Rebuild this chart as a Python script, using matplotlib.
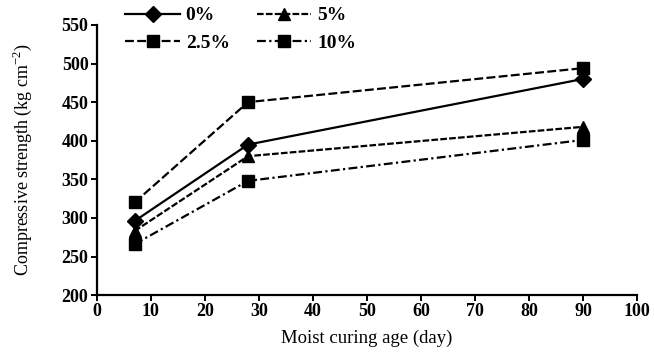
import matplotlib
matplotlib.use("Agg")
import matplotlib.pyplot as plt

days = [7, 28, 90]
s0 = [296, 395, 480]
s25 = [320, 450, 494]
s5 = [283, 380, 418]
s10 = [266, 348, 401]
labels = ["0%", "2.5%", "5%", "10%"]
xticks = list(range(0, 101, 10))
yticks = list(range(200, 551, 50))

plt.rcParams['font.family'] = ['Liberation Serif', 'DejaVu Serif']
plt.rcParams['mathtext.fontset'] = 'custom'
plt.rcParams['mathtext.rm'] = 'Liberation Serif'

fig = plt.figure(figsize=(6.54, 3.56), dpi=100)
ax = fig.add_axes([0.148, 0.171, 0.826, 0.759])

ax.plot(days, s0, color='black', lw=1.6, ls='-', marker='D', ms=8, label=labels[0])
ax.plot(days, s25, color='black', lw=1.6, ls=(0, (4, 1.5)), marker='s', ms=8.5, label=labels[1])
ax.plot(days, s5, color='black', lw=1.6, ls=(0, (3, 1)), marker='^', ms=8, label=labels[2])
ax.plot(days, s10, color='black', lw=1.6, ls=(0, (4, 1.5, 1, 1.5)), marker='s', ms=8.5, label=labels[3])

ax.set_xlim(0, 100)
ax.set_ylim(200, 550)
ax.set_xticks(xticks)
ax.set_yticks(yticks)
for sp in ['top', 'right']:
    ax.spines[sp].set_visible(False)
for sp in ['left', 'bottom']:
    ax.spines[sp].set_linewidth(1.6)
ax.tick_params(direction='out', length=4, width=1.4, labelsize=13, pad=2)
for t in ax.get_xticklabels() + ax.get_yticklabels():
    t.set_fontweight('bold')
ax.set_xlabel('Moist curing age (day)', fontsize=13.5, labelpad=7)
ax.set_ylabel(r'Compressive strength (kg cm$^{-2}$)', fontsize=13, labelpad=20)

leg = fig.legend(loc='upper left', bbox_to_anchor=(0.165, 1.03), ncol=2, frameon=False,
                 handlelength=2.8, columnspacing=1.4, handletextpad=0.3, labelspacing=0.5,
                 prop={'weight': 'bold', 'size': 14})

fig.savefig('out.png', dpi=100)
